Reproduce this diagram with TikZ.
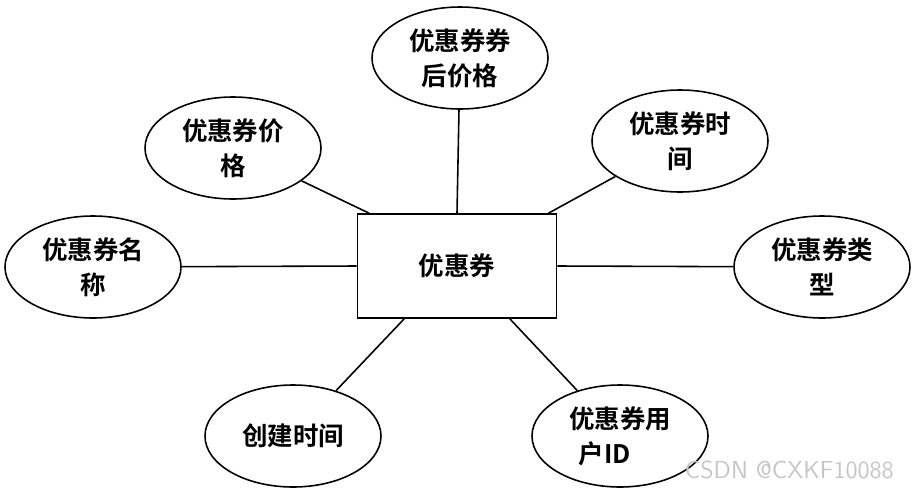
\documentclass[tikz,border=0pt]{standalone}
\usepackage{fontspec}
\newfontfamily\cjk{Noto Sans CJK SC}[BoldFont={* Bold}]
\usetikzlibrary{shapes.geometric}
\begin{document}
\begin{tikzpicture}[x=0.02cm,y=-0.02cm,
  attr/.style={ellipse,draw,line width=0.9pt,minimum width=176*0.02cm,minimum height=102*0.02cm,inner sep=0pt,align=center,font=\cjk\bfseries\fontsize{14.5}{20}\selectfont},
  ent/.style={rectangle,draw,line width=0.9pt,minimum width=199*0.02cm,minimum height=104*0.02cm,font=\cjk\bfseries\fontsize{14.5}{20}\selectfont},
  con/.style={line width=0.9pt}]
\useasboundingbox (0,0) rectangle (914,491);
\node[ent] (r) at (457,266) {优惠券};
\node[attr] (top) at (460,58) {优惠券券\\后价格};
\node[attr] (price) at (233,148) {优惠券价\\格};
\node[attr] (time) at (680,141) {优惠券时\\间};
\node[attr] (name) at (93,267) {优惠券名\\称};
\node[attr] (type) at (822,267) {优惠券类\\型};
\node[attr] (create) at (293,436) {创建时间};
\node[attr] (user) at (620,436) {优惠券用\\户ID\hspace*{1.2em}};
\draw[con] (top) -- (r.north);
\draw[con] (price) -- (r.149);
\draw[con] (time) -- (r.30);
\draw[con] (name) -- (r.west);
\draw[con] (type) -- (r.east);
\draw[con] (create) -- (r.225);
\draw[con] (user) -- (r.-45);
\node[font=\sffamily\fontsize{14}{16}\selectfont,text=gray!45,anchor=east] (wm) at (900,470) {CSDN @CXKF10088};
\end{tikzpicture}
\end{document}
